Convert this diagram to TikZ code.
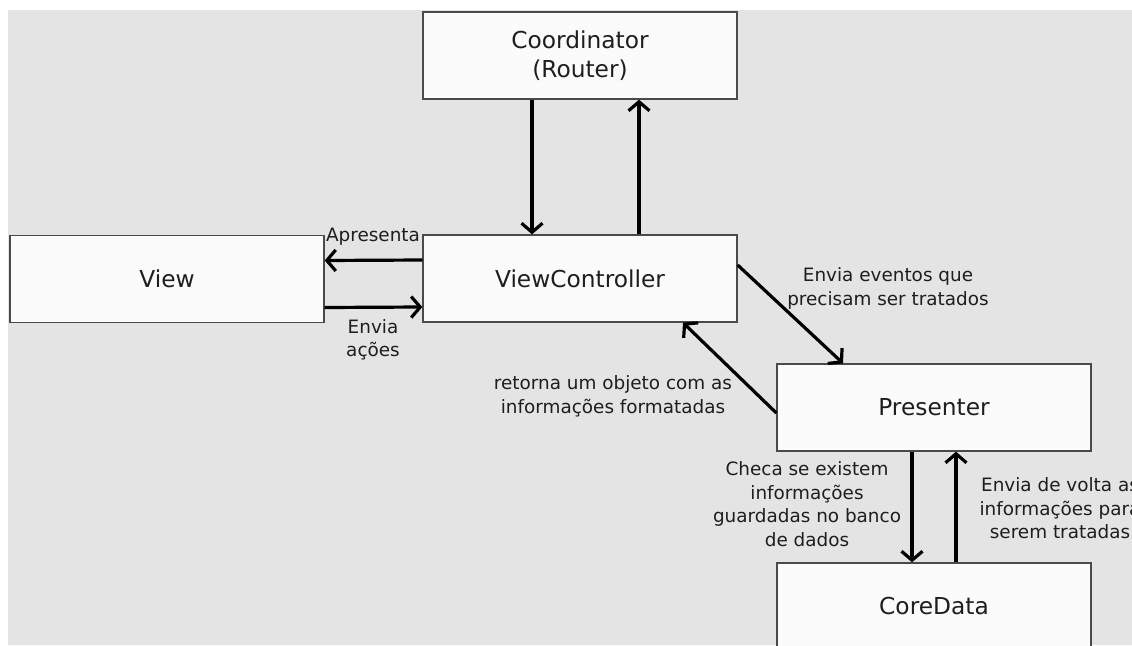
\documentclass[tikz,border=0pt]{standalone}
\usepackage{fontspec}
\setmainfont{DejaVu Sans}
\usetikzlibrary{arrows.meta}

\definecolor{fundo}{HTML}{E4E4E4}
\definecolor{borda}{HTML}{4A4A4A}
\definecolor{caixafundo}{HTML}{FCFBFB}
\definecolor{texto}{HTML}{1E1E1E}

\tikzset{
  caixa/.style={draw=borda, line width=1.3pt, fill=caixafundo, text=texto,
    minimum width=314pt, minimum height=87pt, inner sep=0pt,
    font=\fontsize{23.3}{29}\selectfont, align=center},
  rotulo/.style={font=\fontsize{18.4}{23.5}\selectfont, align=center, text=texto, inner sep=0pt},
  seta/.style={->, line width=3.2pt}
}

\begin{document}
\begin{tikzpicture}[>={Straight Barb[length=9pt,width=21pt]}, x=1pt, y=-1pt]
        % area do desenho
        \useasboundingbox (0,0) rectangle (1132,645);
        \clip (0,0) rectangle (1132,645);
        \fill[white] (0,0) rectangle (1132,645);
        \fill[fundo] (8,10) rectangle (1132,645);

        % caixas
        \node[caixa] (coordinator) at (580,55.5) {Coordinator\\(Router)};
        \node[caixa] (view) at (167,279) {View};
        \node[caixa] (viewcontroller) at (580,278.5) {ViewController};
        \node[caixa] (presenter) at (934,407.5) {Presenter};
        \node[caixa] (coredata) at (934,606.5) {CoreData};

        % setas
        \draw[seta] ([xshift=-48pt]coordinator.south) -- ([xshift=-48pt]viewcontroller.north);
        \draw[seta] ([xshift=59pt]viewcontroller.north) -- ([xshift=59pt]coordinator.south);
        \draw[seta] ([yshift=18.5pt]viewcontroller.west) -- ([yshift=18.5pt]view.east);
        \draw[seta] ([yshift=-28.5pt]view.east) -- ([yshift=-28.5pt]viewcontroller.west);
        \draw[seta] ([yshift=13.5pt]viewcontroller.east) -- ([xshift=-91pt]presenter.north);
        \draw[seta] ([yshift=-5.5pt]presenter.west) -- ([xshift=103pt]viewcontroller.south);
        \draw[seta] ([xshift=-22pt]presenter.south) -- ([xshift=-22pt]coredata.north);
        \draw[seta] ([xshift=22pt]coredata.north) -- ([xshift=22pt]presenter.south);

        % rotulos
        \node[rotulo] (apresenta) at (373,237) {Apresenta};
        \node[rotulo] (enviaacoes) at (373,340) {Envia\\ações};
        \node[rotulo] (enviaeventos) at (888,288.5) {Envia eventos que\\precisam ser tratados};
        \node[rotulo] (retorna) at (613,396.5) {retorna um objeto com as\\informações formatadas};
        \node[rotulo] (checa) at (807,504) {Checa se existem\\informações\\guardadas no banco\\de dados};
        \node[rotulo] (enviavolta) at (1060,508.5) {Envia de volta as\\informações para\\serem tratadas};
    \end{tikzpicture}
\end{document}
